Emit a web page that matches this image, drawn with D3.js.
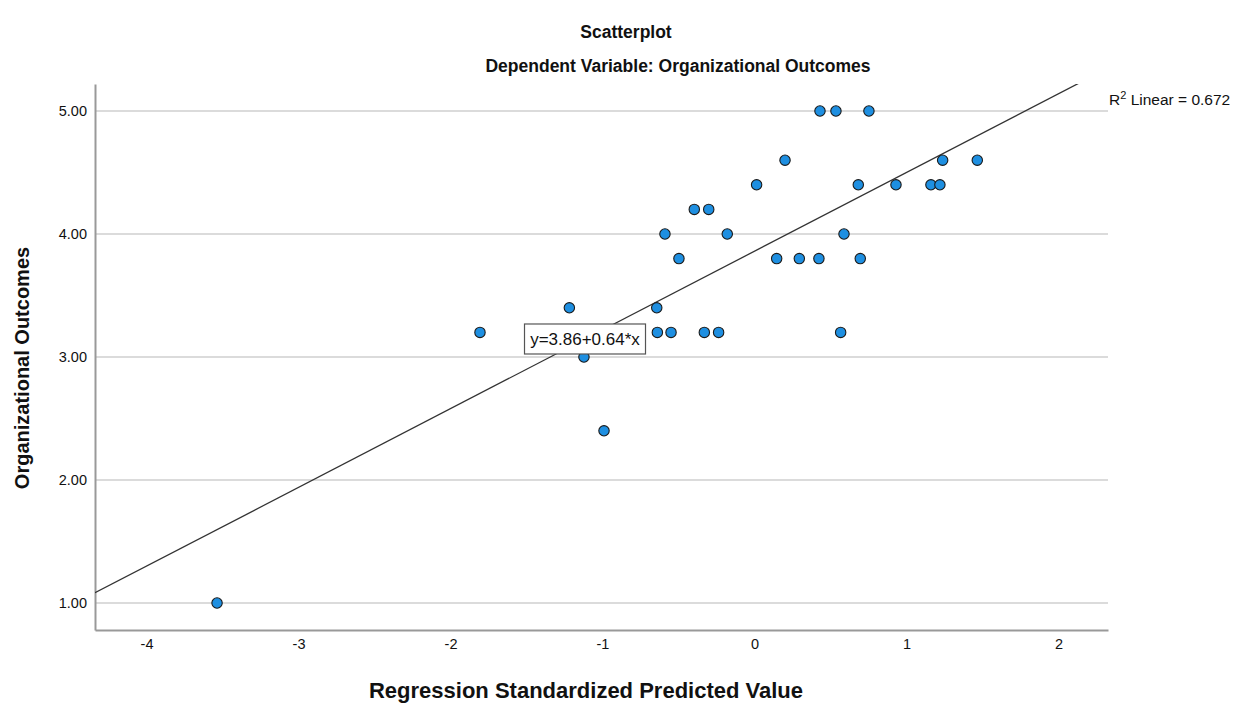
<!DOCTYPE html>
<html>
<head>
<meta charset="utf-8">
<script src="https://cdn.jsdelivr.net/npm/d3@7"></script>
<style>
  body { margin: 0; background: #fff; }
  text { font-family: "Liberation Sans", Arial, sans-serif; fill: #111; }
</style>
</head>
<body>
<svg id="scatter" width="1253" height="706"></svg>
<script>
var predicted = [-3.536, -1.806, -0.639, -0.549, -0.330, -0.236, 0.567,
    -1.218, -0.643, -1.122, -0.990,
    -0.497, 0.146, 0.295, 0.424, 0.696,
    -0.589, -0.179, 0.589,
    -0.396, -0.301,
    0.014, 0.683, 0.931, 1.161, 1.220,
    0.201, 1.238, 1.466,
    0.431, 0.536, 0.753];
var outcomes = [1.0, 3.2, 3.2, 3.2, 3.2, 3.2, 3.2,
    3.4, 3.4, 3.0, 2.4,
    3.8, 3.8, 3.8, 3.8, 3.8,
    4.0, 4.0, 4.0,
    4.2, 4.2,
    4.4, 4.4, 4.4, 4.4, 4.4,
    4.6, 4.6, 4.6,
    5.0, 5.0, 5.0];
var xTicks = [-4, -3, -2, -1, 0, 1, 2];
var yTicks = [1, 2, 3, 4, 5];
var intercept = 3.86, slope = 0.64, rSquare = 0.672;

function scatter_plot() {
    var svg = d3.select("#scatter");
    var margin = {top: 84, right: 145, bottom: 76, left: 95};
    var width = 1253 - margin.left - margin.right;
    var height = 706 - margin.top - margin.bottom;

    var g = svg.append("g")
        .attr("transform", "translate(" + margin.left + "," + margin.top + ")");

    var x = d3.scaleLinear().domain([-4.339, 2.326]).range([0, width]),
        y = d3.scaleLinear().domain([0.7805, 5.2195]).range([height, 0]);

    svg.append("defs").append("clipPath").attr("id", "plotclip")
        .append("rect").attr("width", width).attr("height", height);

    // grid lines
    g.selectAll(".grid")
        .data(yTicks)
        .enter().append("line")
        .attr("x1", 0)
        .attr("x2", width)
        .attr("y1", function(d) { return y(d); })
        .attr("y2", function(d) { return y(d); })
        .attr("stroke", "#cfcfcf")
        .attr("stroke-width", 1.5);

    var xAxis = g.append("g")
        .attr("transform", "translate(0," + height + ")")
        .call(d3.axisBottom(x).tickValues(xTicks).tickSize(0).tickPadding(9)
            .tickFormat(function(d) { return String(d); }));
    xAxis.select(".domain").attr("stroke", "#999").attr("stroke-width", 2);
    xAxis.selectAll("text").style("font-size", "14.5px").attr("fill", "#111");

    var yAxis = g.append("g")
        .call(d3.axisLeft(y).tickValues(yTicks).tickSize(0).tickPadding(8).tickFormat(d3.format(".2f")));
    yAxis.select(".domain").attr("stroke", "#999").attr("stroke-width", 2);
    yAxis.selectAll("text").style("font-size", "14.5px").attr("fill", "#111");

    // fit line
    g.append("line")
        .attr("clip-path", "url(#plotclip)")
        .attr("x1", x(x.domain()[0]))
        .attr("y1", y(intercept + slope * x.domain()[0]))
        .attr("x2", x(x.domain()[1]))
        .attr("y2", y(intercept + slope * x.domain()[1]))
        .attr("stroke", "#333")
        .attr("stroke-width", 1.3);

    g.selectAll(".dot")
        .data(predicted)
        .enter().append("circle")
        .attr("cx", function(d) { return x(d); })
        .attr("cy", function(d, i) { return y(outcomes[i]); })
        .attr("r", 5.2)
        .attr("fill", "#1e8fe1")
        .attr("stroke", "#1a1a1a")
        .attr("stroke-width", 1.1);

    // equation label sits on the fit line
    var lx = -1.115;
    var lab = g.append("g")
        .attr("transform", "translate(" + x(lx) + "," + y(intercept + slope * lx) + ")");
    lab.append("rect")
        .attr("x", -60.5)
        .attr("y", -15)
        .attr("width", 121)
        .attr("height", 30)
        .attr("fill", "#fff")
        .attr("stroke", "#555")
        .attr("stroke-width", 1.2);
    lab.append("text")
        .attr("text-anchor", "middle")
        .attr("y", 6)
        .style("font-size", "17px")
        .text("y=" + intercept + "+" + slope + "*x");

    var r2 = svg.append("text")
        .attr("x", margin.left + width + 1)
        .attr("y", 105)
        .style("font-size", "15.5px");
    r2.append("tspan").text("R");
    r2.append("tspan").attr("dy", -6).style("font-size", "11px").text("2");
    r2.append("tspan").attr("dy", 6).text(" Linear = " + rSquare);

    svg.append("text")
        .attr("x", 626)
        .attr("y", 38)
        .attr("text-anchor", "middle")
        .style("font-size", "17.5px")
        .style("font-weight", "bold")
        .text("Scatterplot");

    svg.append("text")
        .attr("x", 678)
        .attr("y", 72)
        .attr("text-anchor", "middle")
        .style("font-size", "17.5px")
        .style("font-weight", "bold")
        .text("Dependent Variable: Organizational Outcomes");

    svg.append("text")
        .attr("x", 586)
        .attr("y", 698)
        .attr("text-anchor", "middle")
        .style("font-size", "22px")
        .style("font-weight", "bold")
        .text("Regression Standardized Predicted Value");

    svg.append("text")
        .attr("transform", "translate(29,368) rotate(-90)")
        .attr("text-anchor", "middle")
        .style("font-size", "20px")
        .style("font-weight", "bold")
        .text("Organizational Outcomes");
}

scatter_plot();
</script>
</body>
</html>
